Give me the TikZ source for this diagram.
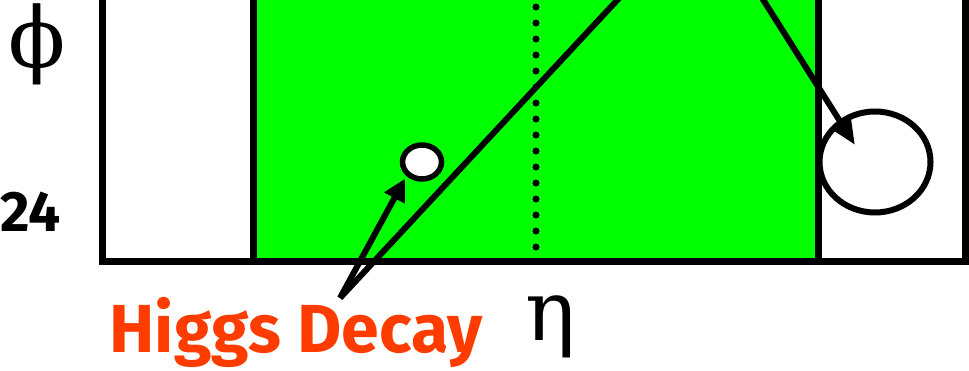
\documentclass[tikz,border=0pt]{standalone}
\usepackage{fontspec}
\setmainfont{Liberation Serif}
\newfontfamily\tagfont{Fira Sans}
\newfontfamily\greekfont{DejaVu Serif}
\usetikzlibrary{arrows.meta,shapes.geometric}
\definecolor{calgreen}{RGB}{0,255,0}
\definecolor{decayred}{RGB}{255,60,0}
\begin{document}
\begin{tikzpicture}[
  x=1pt, y=-1pt,
  frame/.style={line width=7pt},
  track/.style={line width=6pt},
  pointer/.style={line width=6pt, -{Triangle[length=22pt,width=22pt]}},
  blob/.style={draw, ellipse, inner sep=0pt},
  axislabel/.style={font=\greekfont\fontsize{84}{84}\selectfont},
  tag/.style={font=\tagfont\bfseries\fontsize{57}{57}\selectfont, inner sep=0pt}
]
\clip (0,0) rectangle (969,371);
\fill[calgreen] (253,-20) rectangle (818,262);
\draw[line width=7pt, dash pattern=on 0pt off 16pt, line cap=round] (536,7) -- (536,250);
\draw[frame] (102,-20) -- (102,262) -- (965,262) -- (965,-20);
\draw[frame] (253,-20) -- (253,262);
\draw[frame] (818,-20) -- (818,262);
\node[axislabel] (phi) at (37,44) {ϕ};
\node[axislabel, anchor=base] (eta) at (551,340) {η};
\node[tag, anchor=base east] (cut) at (61,232) {24};
\node[tag, anchor=base, text=decayred, font=\tagfont\bfseries\fontsize{68}{68}\selectfont] (higgs) at (296,352) {Higgs Decay};
\coordinate (decay) at (340,298);
\coordinate (trackend) at (622,-5);
\coordinate (jetstart) at (757,-10);
\coordinate (jethit) at (855,145);
\node[blob, fill=white, line width=5.5pt, minimum width=39pt, minimum height=34pt] (photon) at (422,162) {};
\node[blob, line width=6pt, minimum width=111pt, minimum height=101pt] (jet) at (875,162) {};
\draw[track] (decay) -- (trackend);
\draw[pointer, shorten >=3pt] (decay) -- (photon.222);
\draw[pointer, -{Triangle[length=25pt,width=20pt]}] (jetstart) -- (jethit);
\end{tikzpicture}
\end{document}
